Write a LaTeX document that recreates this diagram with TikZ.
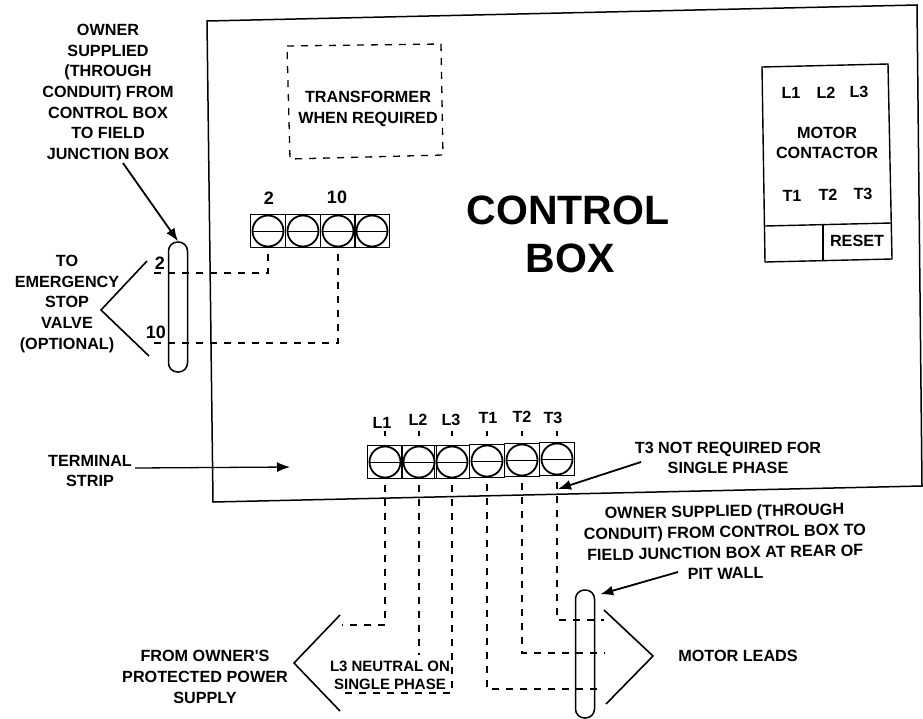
\documentclass[tikz,border=0pt]{standalone}
\usepackage{fontspec}
\usepackage{tikz}
\usetikzlibrary{arrows.meta}
\newfontfamily\diagfont{Liberation Sans Bold}
\tikzset{
  lbl/.style={font=\diagfont\fontsize{16.2}{20.7}\selectfont,align=center,inner sep=0pt},
  numlbl/.style={font=\diagfont\fontsize{18}{20}\selectfont,inner sep=0pt},
  smalllbl/.style={font=\diagfont\fontsize{15}{18}\selectfont,align=center,inner sep=0pt},
  title/.style={font=\diagfont\fontsize{41}{48}\selectfont,align=center,inner sep=0pt},
  termcell/.style={draw,line width=1pt,minimum width=34.5pt,minimum height=33pt,inner sep=0pt},
  termscrew/.style={draw,circle,line width=1.8pt,minimum size=31pt,inner sep=0pt},
  wire/.style={line width=1.3pt,dash pattern=on 7pt off 7pt},
  conduit/.style={draw,line width=1.5pt,rounded corners=9pt,minimum width=19pt,inner sep=0pt},
  leader/.style={line width=1.8pt,-{Latex[length=13pt,width=10pt]}}
}
\begin{document}
\begin{tikzpicture}[x=1pt,y=-1pt]
\useasboundingbox (0,0) rectangle (923,718);

%% control box
\draw[line width=1.5pt] (207,21) -- (917,5) -- (922,486) -- (213,502) -- cycle;
\node[title] (ctrl) at (568,210) {CONTROL};
\node[title] (box) at (570,258) {BOX};

%% transformer
\draw[wire] (287,46) -- (441,44) -- (443,155) -- (290,159) -- cycle;
\node[lbl] (trans) at (368,109) {TRANSFORMER\\WHEN REQUIRED};

%% motor contactor
\draw[line width=1.4pt] (762,67) -- (888,64) -- (892,259) -- (765,262) -- cycle;
\draw[line width=1.4pt] (765,226) -- (891,223);
\draw[line width=1.4pt] (823,225) -- (823,261);
\node[lbl] (mL1) at (791,93) {L1};
\node[lbl] (mL2) at (826,93) {L2};
\node[lbl] (mL3) at (859,92) {L3};
\node[lbl] (mc) at (827,143) {MOTOR\\CONTACTOR};
\node[lbl] (mT1) at (792,196) {T1};
\node[lbl] (mT2) at (828,195) {T2};
\node[lbl] (mT3) at (863,194) {T3};
\node[lbl] (rst) at (857,241) {RESET};

%% upper terminal strip
\foreach \x/\nm in {268/ta,303/tb,338/tc,372/td}{
  \node[termcell] (\nm) at (\x,231) {};
  \node[termscrew] (\nm s) at (\nm) {};
  \draw[line width=1pt] (\nm s.west) -- (\nm s.east);
}
\node[numlbl] (n2) at (269,198) {2};
\node[numlbl] (n10) at (337,197) {10};

%% lower terminal strip
\foreach \x/\y/\nm in {385/462/L1,419/462/L2,452/462/L3,487/461/T1,522/460/T2,557/459/T3}{
  \node[termcell] (\nm) at (\x,\y) {};
  \node[termscrew] (\nm s) at (\nm) {};
  \draw[line width=1pt] (\nm s.west) -- (\nm s.east);
  \draw[wire] (\x,431) -- (\x,436);
}
\node[lbl] at (382,423) {L1};
\node[lbl] at (418,420) {L2};
\node[lbl] at (451,420) {L3};
\node[lbl] at (488,418) {T1};
\node[lbl] at (522,417) {T2};
\node[lbl] at (553,418) {T3};

%% conduits
\node[conduit,minimum height=130pt] (cdA) at (178,307) {};
\node[conduit,minimum height=128pt] (cdB) at (585,654) {};

%% wire ends
\coordinate (stopA) at (147,273);
\coordinate (stopB) at (148,343);
\coordinate (supA) at (342,625);
\coordinate (supB) at (343,693);
\coordinate (neut) at (422,655);
\coordinate (leadA) at (604,620);
\coordinate (leadB) at (605,653);
\coordinate (leadC) at (603,689);

%% wires
\draw[wire,shorten <=6pt] (ta.south) |- (stopA);
\draw[wire,shorten <=6pt] (tc.south) |- (stopB);
\draw[wire,shorten <=6pt] (L1.south) |- (supA);
\draw[wire,shorten <=6pt] (L2.south) -- (L2.south |- neut);
\draw[wire,shorten <=6pt] (L3.south) |- (supB);
\draw[wire,shorten <=6pt] (T1.south) |- (leadC);
\draw[wire,shorten <=6pt] (T2.south) |- (leadB);
\draw[wire,shorten <=6pt] (T3.south) |- (leadA);

%% chevrons
\draw[line width=1.6pt] (147,261) -- (101,310) -- (149,356);
\draw[line width=1.6pt] (340,615) -- (294,663) -- (340,711);
\draw[line width=1.6pt] (604,610) -- (653,656) -- (606,704);

%% outside labels
\node[lbl] (own) at (108,92) {OWNER\\SUPPLIED\\(THROUGH\\CONDUIT) FROM\\CONTROL BOX\\TO FIELD\\JUNCTION BOX};
\node[lbl] (stop) at (67,304) {TO\\EMERGENCY\\STOP\\VALVE\\(OPTIONAL)};
\node[numlbl] at (160,263) {2};
\node[numlbl] at (156,332) {10};
\node[lbl] (term) at (90,471) {TERMINAL\\STRIP};
\node[lbl] (t3) at (728,458) {T3 NOT REQUIRED FOR\\SINGLE PHASE};
\node[lbl,rotate=1] (pit) at (725,542) {OWNER SUPPLIED (THROUGH\\CONDUIT) FROM CONTROL BOX TO\\FIELD JUNCTION BOX AT REAR OF\\PIT WALL};
\node[lbl] (sup) at (205,677) {FROM OWNER'S\\PROTECTED POWER\\SUPPLY};
\node[smalllbl] (neutlbl) at (390,675) {L3 NEUTRAL ON\\SINGLE PHASE};
\node[lbl] (ml) at (738,656) {MOTOR LEADS};

%% leaders
\coordinate (tipT) at (290,467);
\coordinate (tipS) at (558,489);
\draw[leader] (own.south) ++(15,3) -- (cdA.north);
\draw[leader,line width=1.3pt] ([shift={(3,-3)}]term.east) -- (tipT);
\draw[leader] (641,462) -- (tipS);
\draw[leader] (678,572) -- ([shift={(5,5)}]cdB.north east);

\end{tikzpicture}
\end{document}
